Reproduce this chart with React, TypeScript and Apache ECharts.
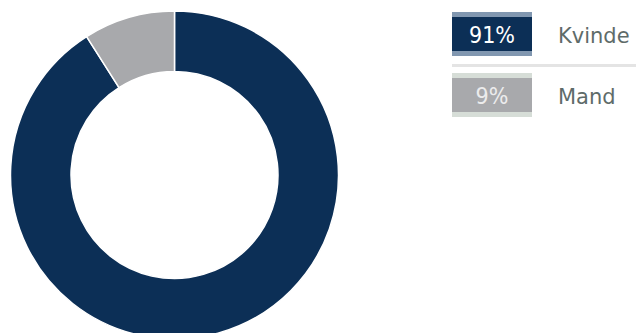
import React, { useEffect, useRef } from "react";
import * as echarts from "echarts";

const categories = ["Kvinde", "Mand"];
const values = [91, 9];
const colors = ["#0c2f56", "#a8a9ac"];
const stripeColors = ["#8197b0", "#d6ddd7"];
const valueTextColors = ["#ffffff", "#ececec"];

export default function App() {
  const ref = useRef<HTMLDivElement>(null);
  useEffect(() => {
    if (!ref.current) return;
    const chart = echarts.init(ref.current, undefined, { renderer: "svg" });
    const total = values.reduce((a, b) => a + b, 0);
    const graphic: any[] = [];
    categories.forEach((cat, i) => {
      const top = 12 + i * 61;
      graphic.push({
        type: "rect",
        shape: { x: 452, y: top, width: 80, height: 44 },
        style: { fill: stripeColors[i] },
      });
      graphic.push({
        type: "rect",
        shape: { x: 452, y: top + 5, width: 80, height: 34 },
        style: { fill: colors[i] },
      });
      graphic.push({
        type: "text",
        x: 492,
        y: top + 23,
        style: {
          text: Math.round((values[i] / total) * 100) + "%",
          fill: valueTextColors[i],
          font: '23px "DejaVu Sans Condensed", "DejaVu Sans", sans-serif',
          align: "center",
          verticalAlign: "middle",
        },
      });
      graphic.push({
        type: "text",
        x: 558,
        y: top + 24,
        style: {
          text: cat,
          fill: "#5e6b69",
          font: '21px "DejaVu Sans", sans-serif',
          align: "left",
          verticalAlign: "middle",
        },
      });
    });
    graphic.push({
      type: "rect",
      shape: { x: 452, y: 64, width: 184, height: 3 },
      style: { fill: "#e4e4e4" },
    });
    chart.setOption({
      animation: false,
      backgroundColor: "#ffffff",
      series: [
        {
          type: "pie",
          center: [174.5, 175],
          radius: [103.5, 164],
          startAngle: 90,
          clockwise: true,
          label: { show: false },
          labelLine: { show: false },
          emphasis: { disabled: true },
          itemStyle: { borderColor: "#ffffff", borderWidth: 1.5 },
          data: categories.map((c, i) => ({
            name: c,
            value: values[i],
            itemStyle: { color: colors[i] },
          })),
        },
      ],
      graphic,
    });
    return () => chart.dispose();
  }, []);
  return (
    <div
      ref={ref}
      style={{ position: "absolute", left: 0, top: 0, width: 636, height: 333 }}
    />
  );
}
